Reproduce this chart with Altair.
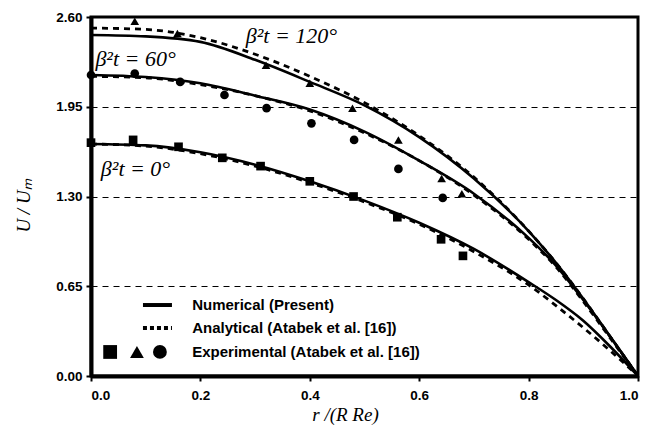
import altair as alt
import pandas as pd

# radial positions of curve samples
r_grid = [0, 0.1, 0.2, 0.3, 0.4, 0.5, 0.6, 0.7, 0.8, 0.85, 0.9, 0.95, 1.0]

num_0 = [1.68, 1.67, 1.62, 1.53, 1.41, 1.27, 1.11, 0.92, 0.68, 0.55, 0.40, 0.21, 0.0]
num_60 = [2.18, 2.165, 2.12, 2.03, 1.93, 1.77, 1.56, 1.32, 1.00, 0.80, 0.55, 0.28, 0.0]
num_120 = [2.47, 2.46, 2.42, 2.29, 2.13, 1.96, 1.73, 1.43, 1.05, 0.82, 0.56, 0.28, 0.0]

ana_0 = [1.68, 1.665, 1.61, 1.52, 1.40, 1.26, 1.10, 0.90, 0.66, 0.51, 0.35, 0.18, 0.0]
ana_60 = [2.17, 2.16, 2.11, 2.03, 1.92, 1.76, 1.56, 1.31, 0.99, 0.79, 0.54, 0.27, 0.0]
ana_120 = [2.52, 2.51, 2.45, 2.33, 2.17, 1.98, 1.74, 1.44, 1.05, 0.82, 0.56, 0.28, 0.0]

exp_r_0 = [0.0, 0.077, 0.16, 0.24, 0.31, 0.40, 0.48, 0.56, 0.64, 0.68]
exp_u_0 = [1.69, 1.71, 1.66, 1.58, 1.52, 1.41, 1.30, 1.15, 0.99, 0.87]
exp_r_60 = [0.0, 0.08, 0.163, 0.244, 0.321, 0.403, 0.481, 0.562, 0.643]
exp_u_60 = [2.18, 2.19, 2.13, 2.035, 1.94, 1.83, 1.71, 1.50, 1.29]
exp_r_120 = [0.08, 0.158, 0.32, 0.40, 0.478, 0.562, 0.641, 0.678]
exp_u_120 = [2.57, 2.48, 2.25, 2.12, 1.94, 1.71, 1.43, 1.32]

y_ticks = [0.0, 0.65, 1.30, 1.95, 2.60]
x_ticks = [0.0, 0.2, 0.4, 0.6, 0.8, 1.0]

labels = ["β²t = 120°", "β²t = 60°", "β²t = 0°"]
label_r = [0.283, 0.008, 0.018]
label_u = [2.465, 2.295, 1.50]

legend_text = ["Numerical (Present)", "Analytical (Atabek et al. [16])",
               "Experimental (Atabek et al. [16])"]

rows = []
for name, vals in [("0", num_0), ("60", num_60), ("120", num_120)]:
    for r, u in zip(r_grid, vals):
        rows.append({"r": r, "U": u, "series": name})
df_num = pd.DataFrame(rows)
rows = []
for name, vals in [("0", ana_0), ("60", ana_60), ("120", ana_120)]:
    for r, u in zip(r_grid, vals):
        rows.append({"r": r, "U": u, "series": name})
df_ana = pd.DataFrame(rows)
rows = []
for name, rs, us in [("0", exp_r_0, exp_u_0), ("60", exp_r_60, exp_u_60), ("120", exp_r_120, exp_u_120)]:
    for r, u in zip(rs, us):
        rows.append({"r": r, "U": u, "series": name})
df_exp = pd.DataFrame(rows)

df_lab = pd.DataFrame({"r": label_r, "U": label_u, "t": labels})

xs = alt.Scale(domain=[0, 1], nice=False)
ys = alt.Scale(domain=[0, 2.6], nice=False)

X = alt.X("r:Q", scale=xs,
          axis=alt.Axis(values=x_ticks, format=".1f", grid=False,
                        title="r /(R Re)", titleFont="Liberation Serif",
                        titleFontStyle="italic", titleFontWeight="normal",
                        titleFontSize=19, titleX=254, titleY=29,
                        titleBaseline="top", labelPadding=7))
Y = alt.Y("U:Q", scale=ys,
          axis=alt.Axis(values=y_ticks, format=".2f", grid=True,
                        gridDash=[6, 5], gridColor="black", gridWidth=1,
                        gridOpacity=1,
                        title="U / Uₘ", titleFont="Liberation Serif",
                        titleFontStyle="italic", titleFontWeight="normal",
                        titleFontSize=19, titleX=-68, titleY=188,
                        titleBaseline="middle", labelPadding=4))

shape_scale = alt.Scale(domain=["0", "60", "120"],
                        range=["square", "circle", "triangle-up"])

base_lines = alt.Chart(df_num).mark_line(color="black", strokeWidth=2.6,
                                          interpolate="monotone").encode(
    x=X, y=Y, detail="series:N")
ana_lines = alt.Chart(df_ana).mark_line(color="black", strokeWidth=2.8,
                                         strokeDash=[6, 5],
                                         interpolate="monotone").encode(
    x="r:Q", y="U:Q", detail="series:N")
pts = alt.Chart(df_exp).mark_point(filled=True, color="black", opacity=1,
                                   size=75).encode(
    x="r:Q", y="U:Q",
    shape=alt.Shape("series:N", scale=shape_scale, legend=None))
labs = alt.Chart(df_lab).mark_text(font="Liberation Serif", fontStyle="italic",
                                   fontSize=22, align="left",
                                   baseline="middle", color="black").encode(
    x="r:Q", y="U:Q", text="t:N")

# in-plot legend, placed in data units
leg_line_x = [0.095]
leg_line_x2 = [0.148]
leg_line_u = [0.514, 0.348]
leg_sym_r = [0.035, 0.084, 0.126]
leg_sym_u = [0.174, 0.174, 0.174]
leg_sym_series = ["0", "120", "60"]
leg_text_r = [0.185, 0.185, 0.185]
leg_text_u = [0.514, 0.348, 0.174]

leg1 = alt.Chart(pd.DataFrame({"r": leg_line_x, "r2": leg_line_x2,
                               "U": [leg_line_u[0]]})).mark_rule(
    color="black", strokeWidth=4).encode(x="r:Q", x2="r2:Q", y="U:Q")
leg2 = alt.Chart(pd.DataFrame({"r": leg_line_x, "r2": leg_line_x2,
                               "U": [leg_line_u[1]]})).mark_rule(
    color="black", strokeWidth=4, strokeDash=[4, 3]).encode(
    x="r:Q", x2="r2:Q", y="U:Q")
leg_pts = alt.Chart(pd.DataFrame({"r": leg_sym_r, "U": leg_sym_u,
                                  "series": leg_sym_series})).mark_point(
    filled=True, color="black", opacity=1, size=190).encode(
    x="r:Q", y="U:Q",
    shape=alt.Shape("series:N", scale=shape_scale, legend=None))
leg_txt = alt.Chart(pd.DataFrame({"r": leg_text_r, "U": leg_text_u,
                                  "t": legend_text})).mark_text(
    font="Liberation Sans", fontWeight="bold", fontSize=15, align="left",
    baseline="middle", color="black").encode(x="r:Q", y="U:Q", text="t:N")

chart = alt.layer(base_lines, ana_lines, pts, labs, leg1, leg2, leg_pts,
                  leg_txt).properties(
    width=547, height=359,
    padding={"left": 83, "top": 9, "right": 12, "bottom": 55},
    autosize=alt.AutoSizeParams(type="none"),
    background="white",
).configure_view(stroke="black", strokeWidth=3).configure_axis(
    labelFont="Liberation Sans", labelFontWeight="bold", labelFontSize=13.5,
    labelColor="black", tickColor="black", tickWidth=2, tickSize=5,
    domainColor="black", domainWidth=4, titleColor="black",
)

chart.save("out.html", embed_options={"renderer": "svg", "actions": False})
